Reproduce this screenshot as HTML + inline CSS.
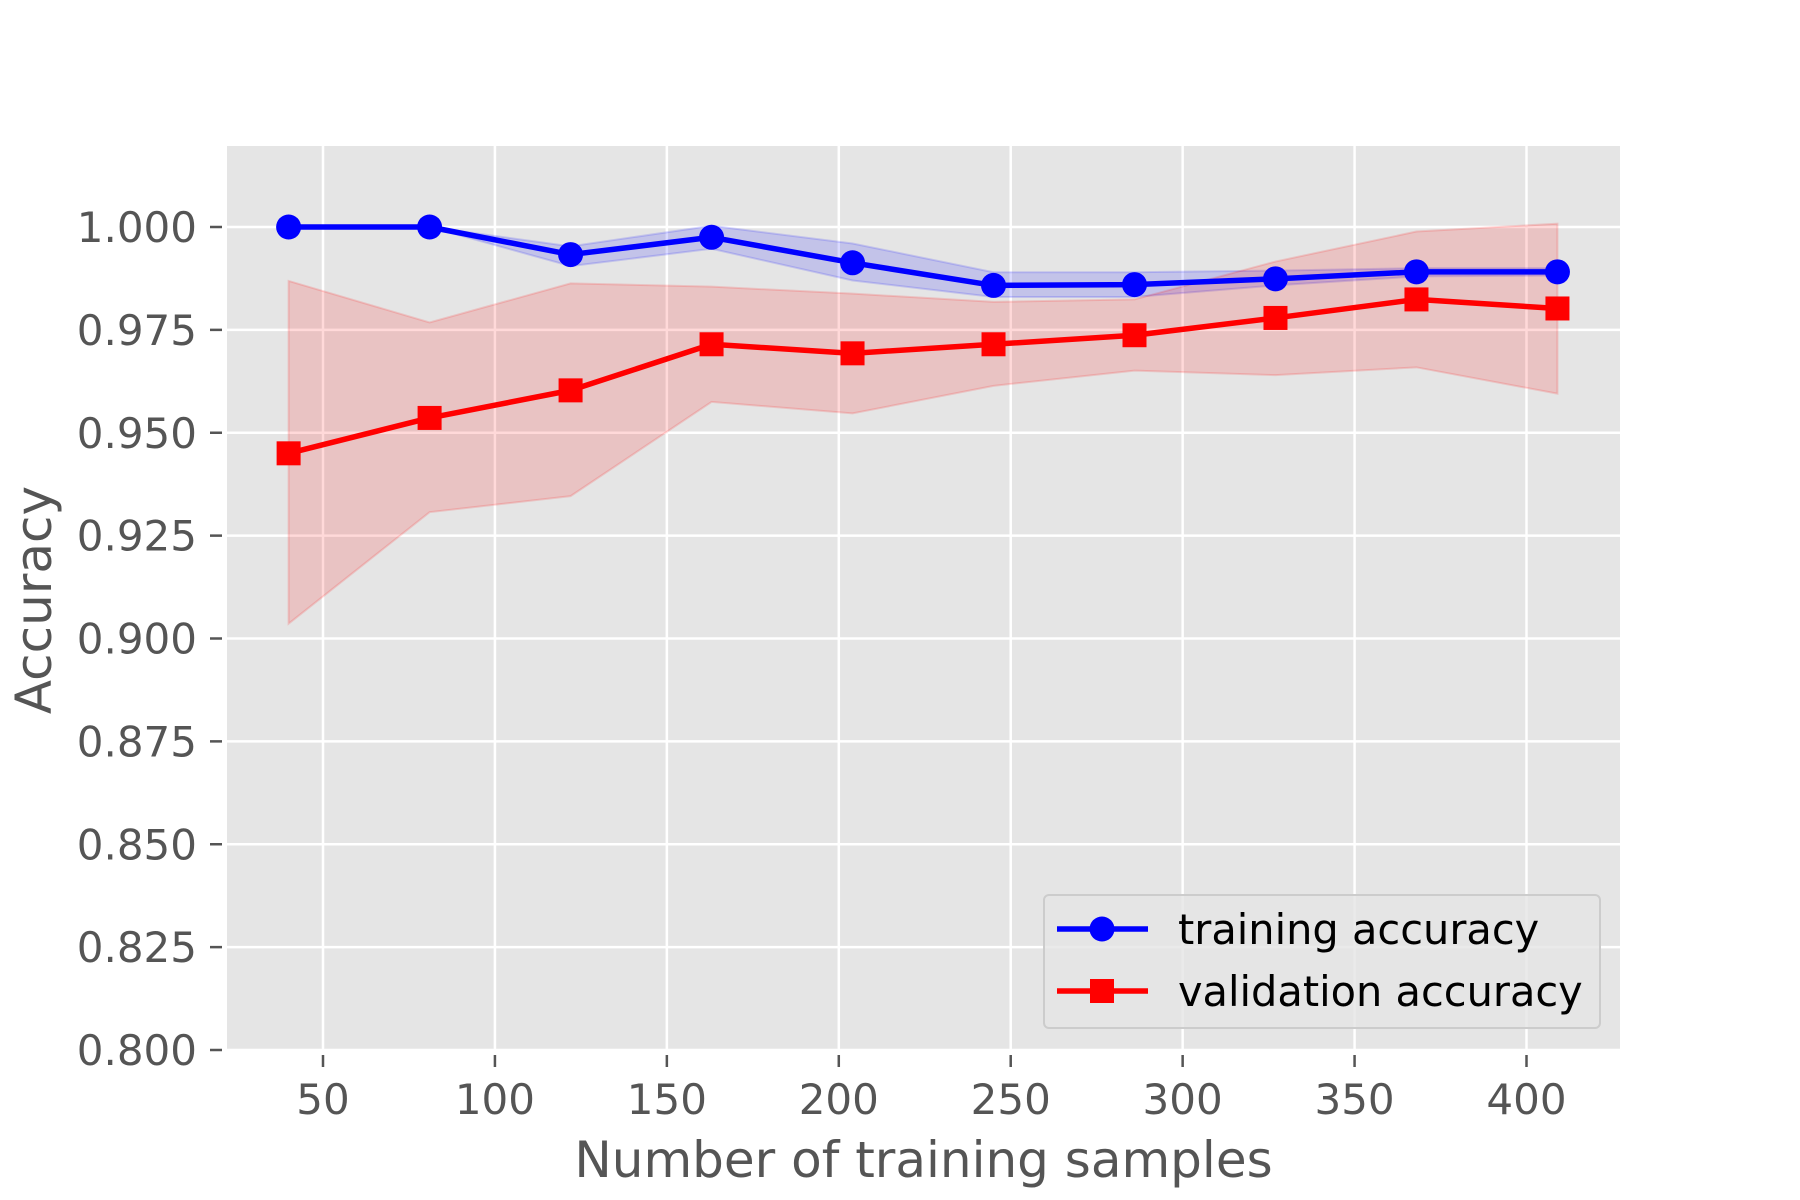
<!DOCTYPE html>
<html><head><meta charset="utf-8"><style>
html,body{margin:0;padding:0;background:#fff;}
svg{display:block;font-family:"DejaVu Sans","Liberation Sans",sans-serif;}
</style></head><body>
<svg id="chart" width="1800" height="1200" viewBox="0 0 1800 1200" xmlns="http://www.w3.org/2000/svg">
<rect x="0" y="0" width="1800" height="1200" fill="#fff"/>
<g id="plot"></g>
</svg>
<script>
const xSamples = [40, 81, 122, 163, 204, 245, 286, 327, 368, 409];
const trainMean = [1.000, 1.000, 0.9933, 0.9975, 0.9913, 0.9858, 0.9860, 0.9874, 0.9891, 0.9891];
const trainUpper = [1.000, 1.000, 0.9953, 1.0003, 0.9960, 0.9890, 0.9890, 0.9894, 0.9900, 0.9900];
const trainLower = [1.000, 1.000, 0.9905, 0.9947, 0.9870, 0.9830, 0.9830, 0.9858, 0.9880, 0.9882];
const valMean = [0.9450, 0.9536, 0.9603, 0.9715, 0.9693, 0.9715, 0.9737, 0.9779, 0.9824, 0.9802];
const valUpper = [0.9869, 0.9768, 0.9863, 0.9855, 0.9838, 0.9818, 0.9824, 0.9916, 0.9989, 1.0008];
const valLower = [0.9036, 0.9307, 0.9346, 0.9575, 0.9547, 0.9614, 0.9651, 0.9640, 0.9659, 0.9595];
const xTicks = [50, 100, 150, 200, 250, 300, 350, 400];
const yTicks = [0.800, 0.825, 0.850, 0.875, 0.900, 0.925, 0.950, 0.975, 1.000];

const NS = "http://www.w3.org/2000/svg";
const L = 227, R = 1620, T = 146, B = 1050;
const sx = v => 323 + (v - 50) * (1526.5 - 323) / 350;
const sy = v => 1050 - (v - 0.8) * (1050 - 227) / 0.2;
const g = document.getElementById('plot');
function mk(tag, attrs, parent) {
  const el = document.createElementNS(NS, tag);
  for (const k in attrs) el.setAttribute(k, attrs[k]);
  (parent || g).appendChild(el);
  return el;
}
let el = mk('rect', {x: L, y: T, width: R - L, height: B - T, fill: '#e5e5e5'});



xTicks.forEach(t => {
  const x = sx(t);
  let gl = mk('line', {x1: x, x2: x, y1: T, y2: B, stroke: '#fff', 'stroke-width': 2.5});
  
  
  let tk = mk('line', {x1: x, x2: x, y1: B + 5, y2: B + 17, stroke: '#555', 'stroke-width': 2.5});
  
  
  let tl = mk('text', {x: x, y: B + 64, 'text-anchor': 'middle', 'font-size': 42, fill: '#555'});
  tl.textContent = t;
  
  
});
yTicks.forEach(t => {
  const y = sy(t);
  let gl = mk('line', {x1: L, x2: R, y1: y, y2: y, stroke: '#fff', 'stroke-width': 2.5});
  
  
  let tk = mk('line', {x1: L - 17, x2: L - 5, y1: y, y2: y, stroke: '#555', 'stroke-width': 2.5});
  
  
  let tl = mk('text', {x: L - 30, y: y + 15, 'text-anchor': 'end', 'font-size': 42, fill: '#555'});
  tl.textContent = t.toFixed(3);
  
  
});

function band(up, lo, fill, stroke, name) {
  let pts = xSamples.map((x, i) => sx(x) + ',' + sy(up[i]));
  for (let i = xSamples.length - 1; i >= 0; i--) pts.push(sx(xSamples[i]) + ',' + sy(lo[i]));
  let p = mk('polygon', {points: pts.join(' '), fill: fill, 'fill-opacity': 0.15, stroke: stroke, 'stroke-opacity': 0.15, 'stroke-width': 2});
  
  
}
band(trainUpper, trainLower, '#0000ff', '#0000ff', 'training-std-band');
band(valUpper, valLower, '#ff0000', '#ff0000', 'validation-std-band');

function series(vals, color, marker, name) {
  let pl = mk('polyline', {points: xSamples.map((x, i) => sx(x) + ',' + sy(vals[i])).join(' '), fill: 'none', stroke: color, 'stroke-width': 5.5, 'stroke-linejoin': 'round'});
  
  
  xSamples.forEach((x, i) => {
    let m;
    if (marker === 'circle') m = mk('circle', {cx: sx(x), cy: sy(vals[i]), r: 12.5, fill: color});
    else m = mk('rect', {x: sx(x) - 12, y: sy(vals[i]) - 12, width: 24, height: 24, fill: color});
    
    
  });
}
series(trainMean, '#0000ff', 'circle', 'training-accuracy');
series(valMean, '#ff0000', 'square', 'validation-accuracy');

// axis titles
el = mk('text', {x: (L + R) / 2, y: 1177, 'text-anchor': 'middle', 'font-size': 50, fill: '#555'});
el.textContent = 'Number of training samples';


el = mk('text', {x: 0, y: 0, 'text-anchor': 'middle', 'font-size': 50, fill: '#555', transform: 'translate(51,600) rotate(-90)'});
el.textContent = 'Accuracy';



// legend
const lg = mk('g', {});


el = mk('rect', {x: 1044, y: 895, width: 556, height: 133, rx: 5, fill: '#e5e5e5', 'fill-opacity': 0.8, stroke: '#ccc', 'stroke-width': 2}, lg);


const entries = [['training accuracy', '#0000ff', 'circle', 929], ['validation accuracy', '#ff0000', 'square', 991]];
entries.forEach(e => {
  const y = e[3];
  const eg = mk('g', {}, lg);
  
  
  mk('line', {x1: 1057, x2: 1148, y1: y, y2: y, stroke: e[1], 'stroke-width': 5.5}, eg);
  if (e[2] === 'circle') mk('circle', {cx: 1102, cy: y, r: 12.5, fill: e[1]}, eg);
  else mk('rect', {x: 1090, y: y - 12, width: 24, height: 24, fill: e[1]}, eg);
  const t = mk('text', {x: 1178, y: y + 15, 'font-size': 41.5, fill: '#000'}, eg);
  t.textContent = e[0];
});
</script>
</body></html>
